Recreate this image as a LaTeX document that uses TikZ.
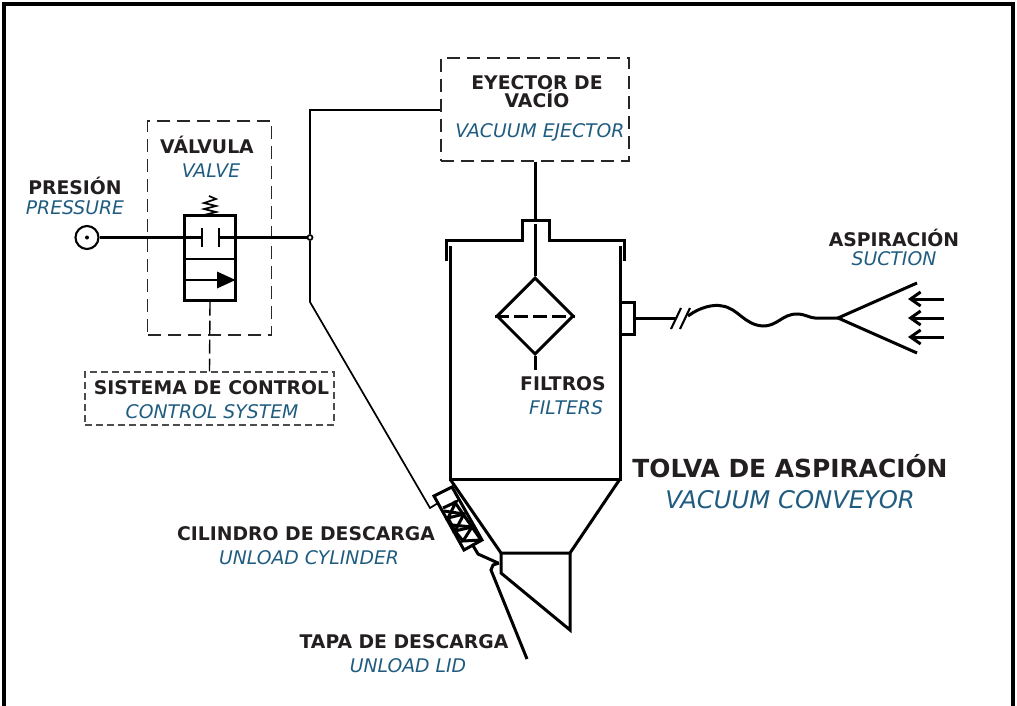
\documentclass[tikz,border=0pt]{standalone}
\usepackage{fontspec}
\setmainfont{DejaVu Sans}
\usetikzlibrary{shapes.geometric}
\usetikzlibrary{arrows.meta}
\usetikzlibrary{positioning}
\definecolor{engblue}{RGB}{31,92,128}
\definecolor{esblack}{RGB}{35,31,32}
\tikzset{
  es label/.style={font=\bfseries\fontsize{18.8}{15.5}\selectfont, text=esblack, inner sep=0pt, align=center},
  en label/.style={font=\itshape\fontsize{18.8}{18}\selectfont, text=engblue, inner sep=0pt},
  wall line/.style={line width=3pt},
  pipe line/.style={line width=2.1pt},
  pilot line/.style={line width=1.7pt},
  dash box/.style={draw=black!85, line width=1.2pt, dash pattern=on 13pt off 7pt},
  suction arrow/.style={wall line, {Straight Barb[length=10pt,width=14pt]}-},
  >=Stealth
}
\begin{document}
\begin{tikzpicture}[x=1pt, y=-1pt]
\useasboundingbox (0,0) rectangle (1017,706);

% Frame
\draw [line width=3.05pt] (4,707) -- (4,4) -- (1013,4) -- (1013,707);

% Dashed boxes
\node [dash box, minimum width=188pt, minimum height=103pt, inner sep=0pt] (ejector) at (535,109.5) {};
\node [dash box, minimum width=124pt, minimum height=214pt, inner sep=0pt] (valvebox) at (209.5,228) {};
\node [dash box, draw=black!70, dash pattern=on 7pt off 4pt, minimum width=249pt, minimum height=53pt, inner sep=0pt] (control) at (209.5,398.5) {};

% Labels
\node [es label] (ejector-es) at (537,92) {EYECTOR DE\\[-1pt]VACÍO};
\node [en label] (ejector-en) at (540,132.5) {VACUUM EJECTOR};
\node [es label] (valve-es) at (207,144.5) {VÁLVULA};
\node [en label] (valve-en) at (211,171) {VALVE};
\node [es label] (pressure-es) at (75,185.5) {PRESIÓN};
\node [en label] (pressure-en) at (75,208) {PRESSURE};
\node [es label] (control-es) at (211.5,388) {SISTEMA DE CONTROL};
\node [en label] (control-en) at (212,412) {CONTROL SYSTEM};
\node [es label] (suction-es) at (894,237.5) {ASPIRACIÓN};
\node [en label] (suction-en) at (894,259) {SUCTION};
\node [es label] (filters-es) at (563,384) {FILTROS};
\node [en label] (filters-en) at (566,408) {FILTERS};
\node [es label, font=\bfseries\fontsize{24.9}{26}\selectfont] (conveyor-es) at (790,466.5) {TOLVA DE ASPIRACIÓN};
\node [en label, font=\itshape\fontsize{24.3}{26}\selectfont] (conveyor-en) at (790,500) {VACUUM CONVEYOR};
\node [es label] (cylinder-es) at (306,534) {CILINDRO DE DESCARGA};
\node [en label] (cylinder-en) at (309,558) {UNLOAD CYLINDER};
\node [es label] (lid-es) at (404,642) {TAPA DE DESCARGA};
\node [en label] (lid-en) at (408,666) {UNLOAD LID};

% Valve
\node [circle, draw, pipe line, minimum size=23pt, inner sep=0pt] (inlet) at (87,237.5) {};
\fill (87,237.5) circle (2pt);
\node [draw, pipe line, minimum width=51pt, minimum height=85pt, inner sep=0pt] (valve) at (210,258) {};
\draw [pipe line] (184.5,259) -- (235.5,259);
\draw [pipe line] (184.5,280) -- (226,280);
\fill (235.5,280) -- (217,271.5) -- (217,288.5) -- cycle;
\draw [pipe line] (202,228) -- (202,247);
\draw [pipe line] (219,228) -- (219,247);
\draw [pilot line] (209,196) -- (216,199) -- (204,203) -- (216,206) -- (204,209) -- (216,212) -- (204,215) -- (216,216);
\node [circle, draw, pilot line, minimum size=5pt, inner sep=0pt] (junction) at (310,237.5) {};
\draw [pipe line] (inlet) -- (202,237.5);
\draw [pipe line] (219,237.5) -- (junction);
\draw [line width=1.4pt, dash pattern=on 14pt off 5pt] (valve.south) -- (control.north);

% Pilot lines
\coordinate (ejector-in) at (ejector.west |- 0,110);
\coordinate (cyl-top) at (430,508);
\draw [pilot line] (ejector-in) -- (310,110) -- (junction);
\draw [pilot line] (junction) -- (310,302) -- (cyl-top) -- (438,503);

% Vacuum line and hopper
\node [diamond, draw, wall line, aspect=1, minimum size=77pt, inner sep=0pt] (filter) at (535,316) {};
\draw [wall line] (ejector.south) -- (535,220);
\draw [wall line] (535,224) -- (filter.north);
\draw [wall line] (filter.south) -- (535,370);
\draw [wall line] (446.5,261) -- (446.5,240) -- (522,240) -- (522,220) -- (549,220) -- (549,240) -- (624,240) -- (624,261);
\draw [wall line] (450,246) -- (450,479) -- (620,479) -- (620,246);
\draw [wall line] (450,479) -- (501,553) -- (570,553) -- (620,479);
\draw [wall line] (570,553) -- (570,630) -- (501,573) -- (501,553);

% Filter element
\draw [wall line, dash pattern=on 14pt off 5pt] (filter.west) -- (filter.east);

% Cylinder and lid
\draw [wall line, fill=white] (434,496) -- (452,487) -- (482,540) -- (464,550) -- cycle;
\draw [wall line] (454,501) -- (481,540);
\draw [wall line] (443,508) -- (456,502) -- (448,518) -- (464,514) -- (455,531) -- (472,527) -- (463,541) -- (481,540);
\draw [wall line] (444,511) -- (464,514);
\draw [wall line] (452,525) -- (472,527);
\draw [wall line] (448,518) -- (455,531) -- (463,541);
\draw [wall line] (472,544) -- (478,554) -- (498,563);
\draw [wall line] (499,563) -- (493,565) -- (491,570) -- (527,659);

% Suction line
\draw [wall line] (620,302) -- (634,302) -- (634,334) -- (620,334);
\draw [wall line] (634,318) -- (676,318);
\draw [pipe line] (671,329) -- (681,308);
\draw [pipe line] (680,329) -- (690,308);
\draw [wall line] (688,316) .. controls (700,307) and (714,304) .. (722,306)
  .. controls (738,308) and (744,325) .. (763,326)
  .. controls (778,326) and (782,314) .. (797,314)
  .. controls (805,314) and (810,318) .. (815,318) -- (838,318);
\draw [wall line] (917,283) -- (838,318) -- (917,353);

% Arrows
\draw [suction arrow] (908,299) -- (944,299);
\draw [suction arrow] (908,318) -- (944,318);
\draw [suction arrow] (908,337) -- (944,337);

\end{tikzpicture}
\end{document}
